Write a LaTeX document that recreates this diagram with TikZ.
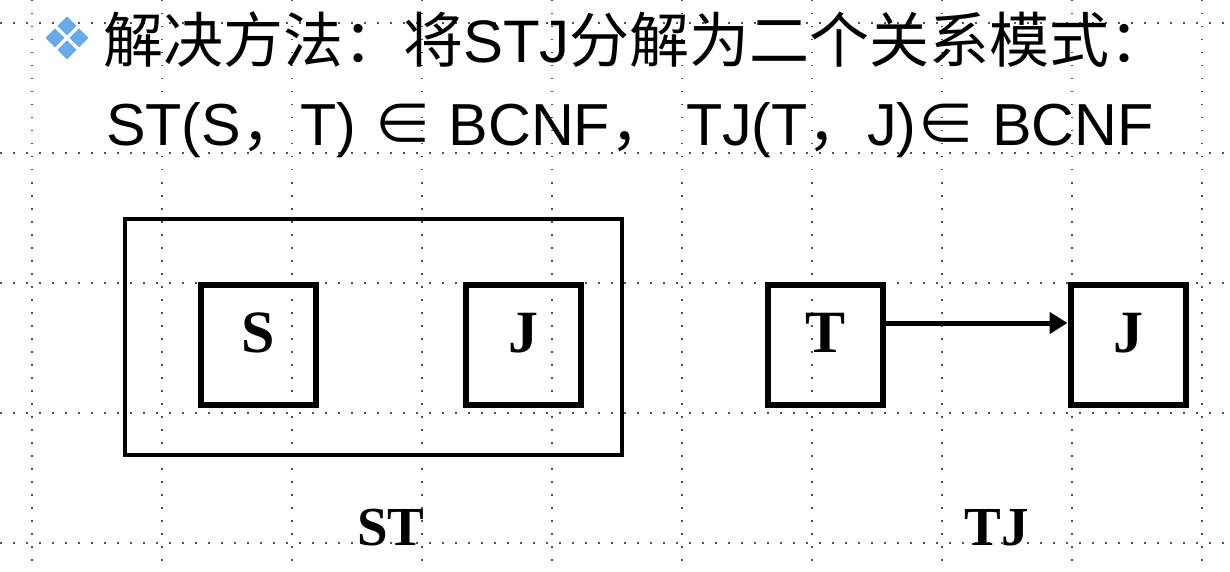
\documentclass[tikz,border=0pt]{standalone}
\usepackage{fontspec}
\setmainfont{Liberation Serif}
\newfontfamily\arial{Liberation Sans}
\newfontfamily\cjk{Noto Sans CJK SC}
\usetikzlibrary{arrows.meta}
\definecolor{bulletblue}{RGB}{104,170,232}
\definecolor{griddot}{RGB}{80,80,80}

\begin{document}
\begin{tikzpicture}[x=1pt, y=-1pt,
  gridline/.style={griddot, line width=1.5pt, dash pattern=on 1.5pt off 11.5pt},
  headline/.style={anchor=base west, inner sep=0pt, font=\fontsize{60}{64}\selectfont},
  relbox/.style={draw, line width=6pt, minimum width=115pt, minimum height=120pt, inner sep=0pt,
    text height=42pt, text depth=28pt, font=\fontsize{60}{62}\selectfont\bfseries},
  setbox/.style={draw, line width=4pt, minimum width=497pt, minimum height=236pt},
  caption/.style={anchor=base, inner sep=0pt, font=\fontsize{55}{58}\selectfont\bfseries}]

  \useasboundingbox (0,0) rectangle (1230,572);

  \foreach \gx in {32,162,...,1202}
    \draw[gridline] (\gx,0) -- (\gx,572);
  \foreach \gy in {23,153,...,543}
    \draw[gridline] (0,\gy) -- (1230,\gy);

  \foreach \dx/\dy in {0/-12, -12/0, 12/0, 0/12}
    \fill[bulletblue] (67+\dx,38+\dy) +(0,-9.5) -- +(9.5,0) -- +(0,9.5) -- +(-9.5,0) -- cycle;

  \node[headline] (title) at (103,63) {\cjk 解决方法：将{\arial STJ}分解为二个关系模式：};
  \node[headline, font=\fontsize{59.3}{64}\selectfont] (rel) at (106,146) {\arial ST(S{\cjk ，}T) {\cjk ∈} BCNF{\cjk ，} TJ(T{\cjk ，}J){\cjk ∈} BCNF};

  \node[setbox] (stset) at (373.5,337) {};
  \node[relbox] (S) at (258.5,345) {S};
  \node[relbox] (J) at (523.5,345) {J};
  \node[relbox] (T) at (825.5,345) {T};
  \node[relbox] (J2) at (1128,345) {J};

  \draw[line width=5pt, -{Triangle[length=18pt,width=21pt]}] ([yshift=22pt]T.east) -- ([yshift=22pt]J2.west);

  \node[caption] (stcap) at (391,545) {ST};
  \node[caption] (tjcap) at (997,545) {TJ};

\end{tikzpicture}
\end{document}
